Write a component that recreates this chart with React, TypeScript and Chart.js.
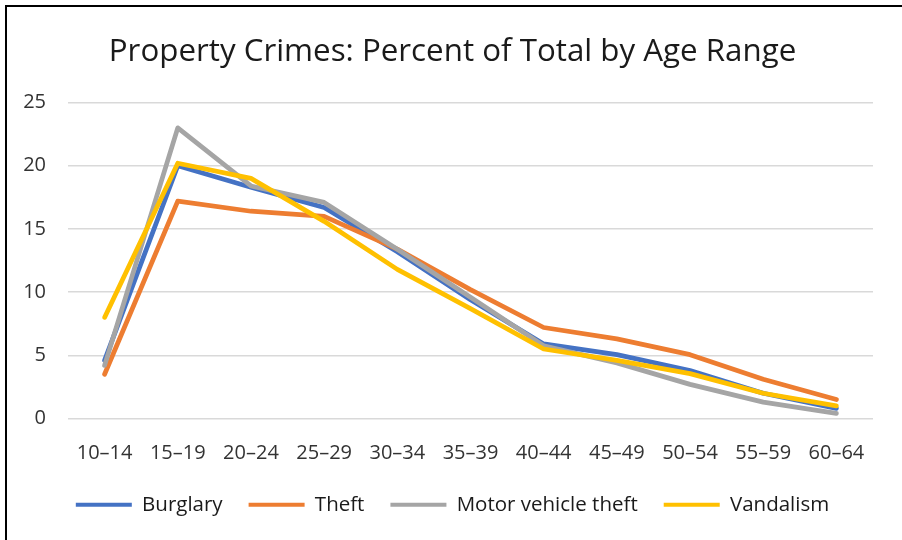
import React, { useEffect, useRef } from "react";
import { Chart, registerables } from "chart.js";

Chart.register(...registerables);

const categories = ["10–14", "15–19", "20–24", "25–29", "30–34", "35–39", "40–44", "45–49", "50–54", "55–59", "60–64"];
const burglary = [4.6, 20.0, 18.3, 16.7, 13.2, 9.4, 5.9, 5.05, 3.8, 2.0, 0.8];
const theft = [3.5, 17.2, 16.4, 16.0, 13.4, 10.2, 7.2, 6.3, 5.05, 3.1, 1.5];
const motorVehicleTheft = [4.2, 23.0, 18.4, 17.1, 13.4, 9.6, 5.75, 4.4, 2.7, 1.3, 0.4];
const vandalism = [8.0, 20.2, 19.0, 15.6, 11.8, 8.7, 5.5, 4.6, 3.55, 2.0, 1.0];
const seriesNames = ["Burglary", "Theft", "Motor vehicle theft", "Vandalism"];
const seriesColors = ["#4472C4", "#ED7D31", "#A5A5A5", "#FFC000"];
const yTicks = [0, 5, 10, 15, 20, 25];

const FONT = "'Open Sans', Lato, sans-serif";

export default function App() {
  const ref = useRef<HTMLCanvasElement | null>(null);
  useEffect(() => {
    document.body.style.margin = "0";
    const values = [burglary, theft, motorVehicleTheft, vandalism];
    const chart = new Chart(ref.current!, {
      type: "line",
      data: {
        labels: categories,
        datasets: values.map((v, i) => ({
          label: seriesNames[i],
          data: v,
          borderColor: seriesColors[i],
          backgroundColor: seriesColors[i],
          borderWidth: 4.75,
          pointRadius: 0,
          tension: 0,
          order: values.length - 1 - i,
          borderJoinStyle: "round" as const,
          borderCapStyle: "round" as const,
        })),
      },
      options: {
        animation: false,
        responsive: false,
        devicePixelRatio: 1,
        layout: { padding: { left: 22, right: 19, top: 15, bottom: 15 } },
        plugins: {
          tooltip: { enabled: false },
          title: {
            display: true,
            text: "Property Crimes: Percent of Total by Age Range",
            color: "#1a1a1a",
            font: { family: FONT, size: 31.3, weight: "normal" },
            padding: { top: 18, bottom: 32 },
          },
          legend: {
            position: "bottom",
            labels: {
              color: "#1a1a1a",
              font: { family: FONT, size: 20.5 },
              boxWidth: 56,
              boxHeight: 4,
              padding: 26,
              generateLabels: (c: any) =>
                c.data.datasets.map((d: any, i: number) => ({
                  text: d.label,
                  fillStyle: d.borderColor,
                  strokeStyle: d.borderColor,
                  lineWidth: 0,
                  hidden: false,
                  datasetIndex: i,
                  fontColor: "#1a1a1a",
                })),
            },
          },
        },
        scales: {
          x: {
            offset: true,
            grid: { display: false, drawTicks: false },
            border: { display: false },
            ticks: { color: "#333", font: { family: FONT, size: 20 }, padding: 23, maxRotation: 0 },
            afterFit: (axis: any) => {
              axis.height = 50;
            },
          },
          y: {
            min: 0,
            max: 25,
            afterBuildTicks: (axis: any) => {
              axis.ticks = yTicks.map((v) => ({ value: v }));
            },
            afterFit: (axis: any) => {
              axis.width = 46;
            },
            grid: { color: "#D9D9D9", lineWidth: 1.5, drawTicks: false },
            border: { display: false },
            ticks: { color: "#333", font: { family: FONT, size: 20 }, padding: 22 },
          },
          yRight: {
            position: "right",
            display: true,
            grid: { display: false, drawTicks: false },
            border: { display: false },
            ticks: { display: false },
            afterFit: (axis: any) => {
              axis.width = 10;
            },
          },
        },
      },
    });
    return () => chart.destroy();
  }, []);
  return (
    <div style={{ position: "relative", width: 902, height: 540, background: "#fff", overflow: "hidden" }}>
      <canvas ref={ref} width={902} height={540} style={{ position: "absolute", left: 0, top: 0 }} />
      <div
        style={{
          position: "absolute",
          left: 5,
          top: 5,
          right: -10,
          bottom: -10,
          borderTop: "2.5px solid #000",
          borderLeft: "2.5px solid #000",
          pointerEvents: "none",
        }}
      />
    </div>
  );
}
